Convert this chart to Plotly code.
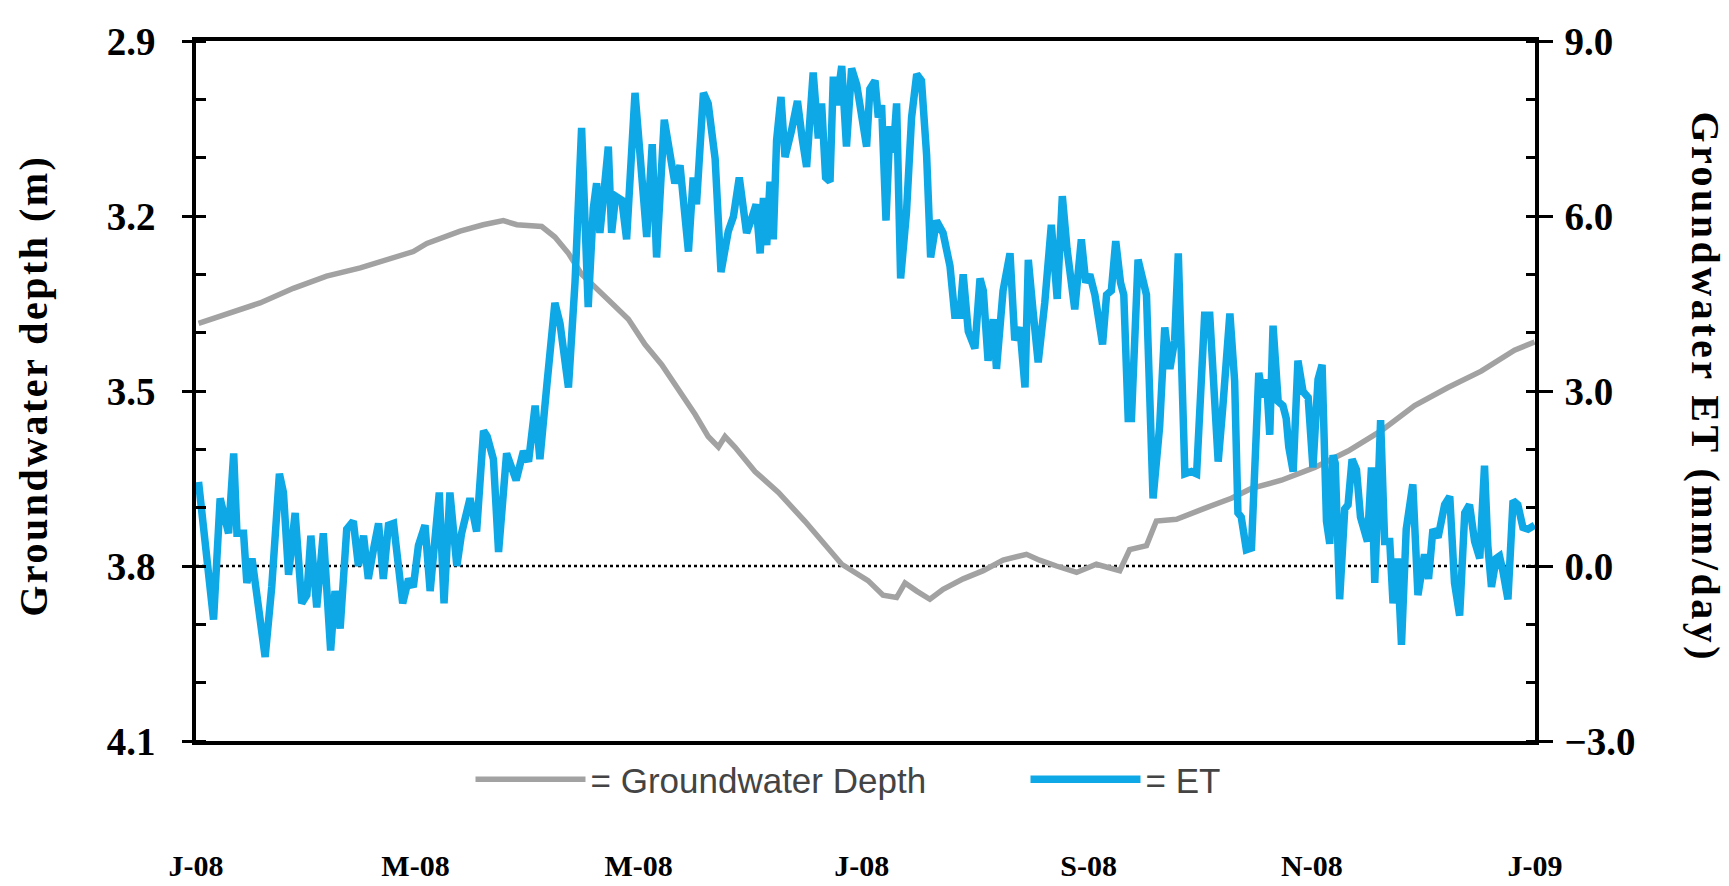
import pandas as pd
import plotly.graph_objects as go

# ---- data (day offset from 2008-01-01, value) ----
depth_day = [0.7, 8.4, 17.5, 26.6, 35.7, 44.9, 54.0, 59.4, 63.1, 72.2, 78.5, 84.0, 87.7,
             90.9, 94.5, 98.1, 101.8, 105.4, 109.1, 113.6, 118.2, 122.7, 127.3, 131.8,
             136.4, 140.0, 142.8, 144.6, 147.3, 152.8, 159.2, 166.4, 171.0, 176.5, 183.7,
             187.8, 191.5, 193.8, 197.0, 200.6, 204.2, 209.7, 215.2, 220.6, 227.0, 230.6,
             235.2, 240.7, 246.1, 252.5, 255.2, 259.8, 262.5, 268.0, 275.3, 283.0, 288.5,
             296.7, 305.8, 314.9, 324.0, 333.1, 342.2, 351.3, 360.4, 365.9]
depth_val = [3.384, 3.367, 3.349, 3.324, 3.303, 3.289, 3.271, 3.261, 3.247, 3.226, 3.215, 3.208, 3.215,
             3.216, 3.218, 3.236, 3.264, 3.300, 3.321, 3.349, 3.377, 3.420, 3.455, 3.497,
             3.540, 3.578, 3.596, 3.578, 3.596, 3.638, 3.674, 3.723, 3.758, 3.797, 3.825,
             3.850, 3.854, 3.829, 3.843, 3.857, 3.840, 3.822, 3.808, 3.790, 3.780, 3.790,
             3.800, 3.811, 3.797, 3.808, 3.772, 3.765, 3.723, 3.720, 3.702, 3.684, 3.667,
             3.653, 3.631, 3.603, 3.568, 3.525, 3.494, 3.466, 3.430, 3.416]

et_day = [0.7, 2.1, 4.8, 6.6, 8.0, 8.9, 10.3, 11.2, 13.0, 13.9, 15.3, 16.2, 18.9, 20.7, 22.8,
          23.9, 25.3, 27.1, 28.9, 30.3, 31.4, 33.0, 34.8, 36.8, 38.0, 39.4, 41.2, 43.0, 44.4,
          45.8, 47.1, 48.5, 49.9, 51.2, 52.6, 54.0, 56.5, 58.1, 59.4, 60.8, 62.6, 64.0, 66.5,
          67.8, 69.4, 71.3, 72.6, 74.9, 76.7, 78.6, 79.6, 81.3, 82.7, 84.9, 87.5, 89.5, 90.9,
          92.7, 94.0, 95.9, 98.1, 99.5, 101.8, 103.6, 105.4, 107.2, 108.6, 109.5, 110.4, 111.3,
          112.7, 113.6, 114.7, 116.4, 117.7, 120.0, 121.4, 123.2, 124.7, 125.9, 128.0, 129.6,
          130.9, 132.3, 134.6, 135.9, 136.8, 138.7, 140.0, 141.9, 143.5, 145.5, 146.9, 148.5,
          150.5, 151.9, 153.1, 154.2, 155.1, 156.0, 156.9, 157.8, 158.7, 159.9, 161.0, 162.8,
          164.4, 165.7, 166.9, 168.7, 170.1, 171.0, 172.1, 173.3, 174.2, 175.1, 176.5, 177.8,
          179.2, 180.6, 182.4, 183.3, 184.2, 185.6, 186.5, 187.4, 188.6, 189.7, 190.6, 191.5,
          192.6, 194.2, 195.6, 197.0, 198.3, 199.7, 200.8, 202.4, 204.2, 206.1, 207.4, 208.8,
          209.7, 211.1, 212.9, 214.3, 215.2, 216.5, 217.9, 218.8, 220.6, 222.5, 223.8, 225.2,
          226.6, 227.5, 228.8, 230.2, 232.0, 233.8, 235.4, 236.8, 238.1, 240.2, 242.0, 243.2,
          244.3, 245.7, 247.8, 248.9, 250.2, 251.4, 252.7, 253.6, 254.8, 255.7, 257.5, 259.8,
          261.6, 263.4, 264.8, 266.2, 267.5, 268.5, 270.3, 272.1, 273.5, 275.7, 277.1, 279.4,
          280.7, 282.6, 283.9, 284.8, 285.7, 287.1, 288.5, 289.4, 290.5, 291.7, 292.6, 293.5,
          294.4, 295.8, 297.1, 298.0, 298.7, 299.9, 301.2, 302.6, 304.0, 305.3, 306.7, 307.8,
          309.0, 309.9, 310.8, 311.4, 312.6, 314.0, 314.9, 316.0, 317.2, 318.3, 319.0, 320.2,
          321.3, 322.2, 323.8, 324.9, 326.3, 327.2, 328.4, 329.5, 330.8, 332.6, 334.0, 335.8,
          336.9, 338.1, 339.5, 341.3, 342.7, 344.0, 345.4, 346.8, 348.1, 349.5, 350.9, 352.2,
          353.1, 354.1, 355.4, 356.3, 357.2, 358.6, 360.0, 361.3, 362.7, 364.1, 365.9]
et_val = [1.44, 0.63, -0.92, 1.16, 0.80, 0.56, 1.93, 0.56, 0.56, -0.29, 0.13, -0.29, -1.56, -0.36, 1.58,
          1.26, -0.15, 0.91, -0.64, -0.50, 0.52, -0.71, 0.56, -1.45, -0.43, -1.07, 0.63, 0.77, 0.00,
          0.52, -0.22, 0.28, 0.73, -0.22, 0.70, 0.73, -0.64, -0.22, -0.36, 0.35, 0.70, -0.43, 1.26,
          -0.64, 1.26, 0.00, 0.56, 1.16, 0.59, 2.32, 2.22, 1.83, 0.24, 1.93, 1.47, 1.97, 1.79,
          2.75, 1.83, 3.10, 4.51, 4.16, 3.06, 4.86, 7.51, 4.44, 6.13, 6.56, 5.71, 6.27,
          7.19, 5.71, 6.34, 6.27, 5.60, 8.11, 6.98, 5.64, 7.23, 5.29, 7.65, 6.98,
          6.56, 6.87, 5.39, 6.66, 6.20, 8.11, 7.93, 6.98, 5.04, 5.74, 5.99, 6.66,
          5.71, 5.96, 6.20, 5.36, 6.31, 5.50, 6.59, 5.60, 7.30, 8.04, 7.01, 7.47,
          7.97, 7.33, 6.84, 8.46, 7.33, 7.93, 6.66, 6.59, 8.39, 7.90, 8.57, 7.19,
          8.53, 8.25, 7.60, 7.19, 8.18, 8.32, 7.69, 7.90, 5.92, 7.54, 7.09, 7.93,
          4.93, 6.06, 7.69, 8.43, 8.32, 7.05, 5.29, 5.92, 5.71, 5.14, 4.30, 4.30,
          5.00, 4.02, 3.73, 4.93, 4.72, 3.52, 4.23, 3.38, 4.72, 5.36, 3.87, 4.09,
          3.06, 5.25, 4.37, 3.49, 4.51, 5.85, 4.58, 6.34, 5.43, 4.40, 5.60, 4.86,
          5.00, 4.65, 3.80, 4.65, 4.72, 5.57, 4.86, 4.65, 2.53, 2.53, 5.25, 4.65,
          1.16, 2.39, 4.09, 3.38, 3.87, 5.36, 1.58, 1.62, 1.58, 4.30, 4.30, 1.79,
          2.75, 4.33, 3.17, 0.91, 0.84, 0.28, 0.31, 1.62, 3.31, 2.89, 3.20, 2.25,
          4.12, 2.82, 2.75, 2.53, 2.04, 1.62, 3.52, 2.99, 2.89, 1.69, 3.20, 3.45,
          0.77, 0.38, 1.90, 1.76, -0.57, 0.98, 1.05, 1.83, 1.65, 0.84, 0.70, 0.42,
          1.69, -0.29, 2.50, 0.42, 0.42, -0.64, 0.13, -1.35, 0.63, 1.40, -0.50, 0.20,
          -0.22, 0.63, 0.49, 1.05, 1.19, -0.29, -0.85, 0.91, 1.05, 0.42, 0.13, 1.72,
          0.35, -0.36, 0.13, 0.17, -0.08, -0.57, 1.12, 1.05, 0.66, 0.63, 0.70]

tick_dates = ["2008-01-01", "2008-03-01", "2008-05-01", "2008-07-01",
              "2008-09-01", "2008-11-01", "2009-01-01"]
tick_text = ["J-08", "M-08", "M-08", "J-08", "S-08", "N-08", "J-09"]

depth_ticks = [2.9, 3.2, 3.5, 3.8, 4.1]
et_ticks = [-3.0, 0.0, 3.0, 6.0, 9.0]

base = pd.Timestamp("2008-01-01")
depth_x = base + pd.to_timedelta(depth_day, unit="D")
et_x = base + pd.to_timedelta(et_day, unit="D")

GRAY = "#A2A2A2"
BLUE = "#0EA8E6"
SERIF = "Liberation Serif, Times New Roman, serif"
LEGFONT = "Liberation Sans Narrow, Liberation Sans, Arial, sans-serif"

fig = go.Figure()
fig.add_trace(go.Scatter(x=depth_x, y=depth_val, mode="lines", name="= Groundwater Depth",
                         line=dict(color=GRAY, width=5.5), yaxis="y"))
fig.add_trace(go.Scatter(x=et_x, y=et_val, mode="lines", name="= ET",
                         line=dict(color=BLUE, width=7.5), yaxis="y2"))

# zero-ET reference line (dotted)
fig.add_shape(type="line", xref="paper", x0=0, x1=1, yref="y2", y0=0, y1=0,
              line=dict(color="black", width=2.5, dash="dot"), layer="below")

fig.update_layout(
    width=1729, height=886,
    margin=dict(l=188, r=202, t=25, b=134),
    paper_bgcolor="white", plot_bgcolor="white",
    showlegend=True,
    legend=dict(orientation="h", x=0.205, y=-0.055, xanchor="left", yanchor="middle",
                font=dict(family=LEGFONT, size=35, color="#444444"),
                itemwidth=110, entrywidth=430, entrywidthmode="pixels",
                bgcolor="rgba(0,0,0,0)"),
    xaxis=dict(type="date", range=["2008-01-01", "2009-01-01"],
               tickvals=tick_dates, ticktext=tick_text, ticks="",
               showline=True, linecolor="black", linewidth=3.5, mirror=True,
               showgrid=False, zeroline=False, ticklabelstandoff=95,
               tickfont=dict(family=SERIF, size=30, color="black", weight="bold")),
    yaxis=dict(range=[4.1, 2.9], tickvals=depth_ticks, tickformat=".1f",
               ticks="outside", ticklen=10, tickwidth=3, tickcolor="black",
               minor=dict(dtick=0.1, tick0=2.9, ticks="inside", ticklen=10, tickwidth=3,
                          tickcolor="black", showgrid=False),
               showline=True, linecolor="black", linewidth=3.5,
               showgrid=False, zeroline=False, ticklabelstandoff=19,
               tickfont=dict(family=SERIF, size=39, color="black", weight="bold")),
    yaxis2=dict(range=[-3, 9], tickvals=et_ticks, tickformat=".1f", overlaying="y", side="right",
                ticks="outside", ticklen=14, tickwidth=3, tickcolor="black",
                minor=dict(dtick=1, tick0=-3, ticks="inside", ticklen=9, tickwidth=3,
                           tickcolor="black", showgrid=False),
                showline=True, linecolor="black", linewidth=3.5,
                showgrid=False, zeroline=False, ticklabelstandoff=4,
                tickfont=dict(family=SERIF, size=39, color="black", weight="bold")),
    annotations=[
        dict(text='<span style="letter-spacing:2.5px">Groundwater depth (m)</span>',
             xref="paper", yref="paper", x=-0.122, y=0.507, textangle=-90,
             xanchor="center", yanchor="middle", showarrow=False,
             font=dict(family=SERIF, size=40, color="black", weight="bold")),
        dict(text='<span style="letter-spacing:3.5px">Groundwater ET (mm/day)</span>',
             xref="paper", yref="paper", x=1.127, y=0.505, textangle=90,
             xanchor="center", yanchor="middle", showarrow=False,
             font=dict(family=SERIF, size=40, color="black", weight="bold")),
    ],
)

fig.write_html("out.html")
